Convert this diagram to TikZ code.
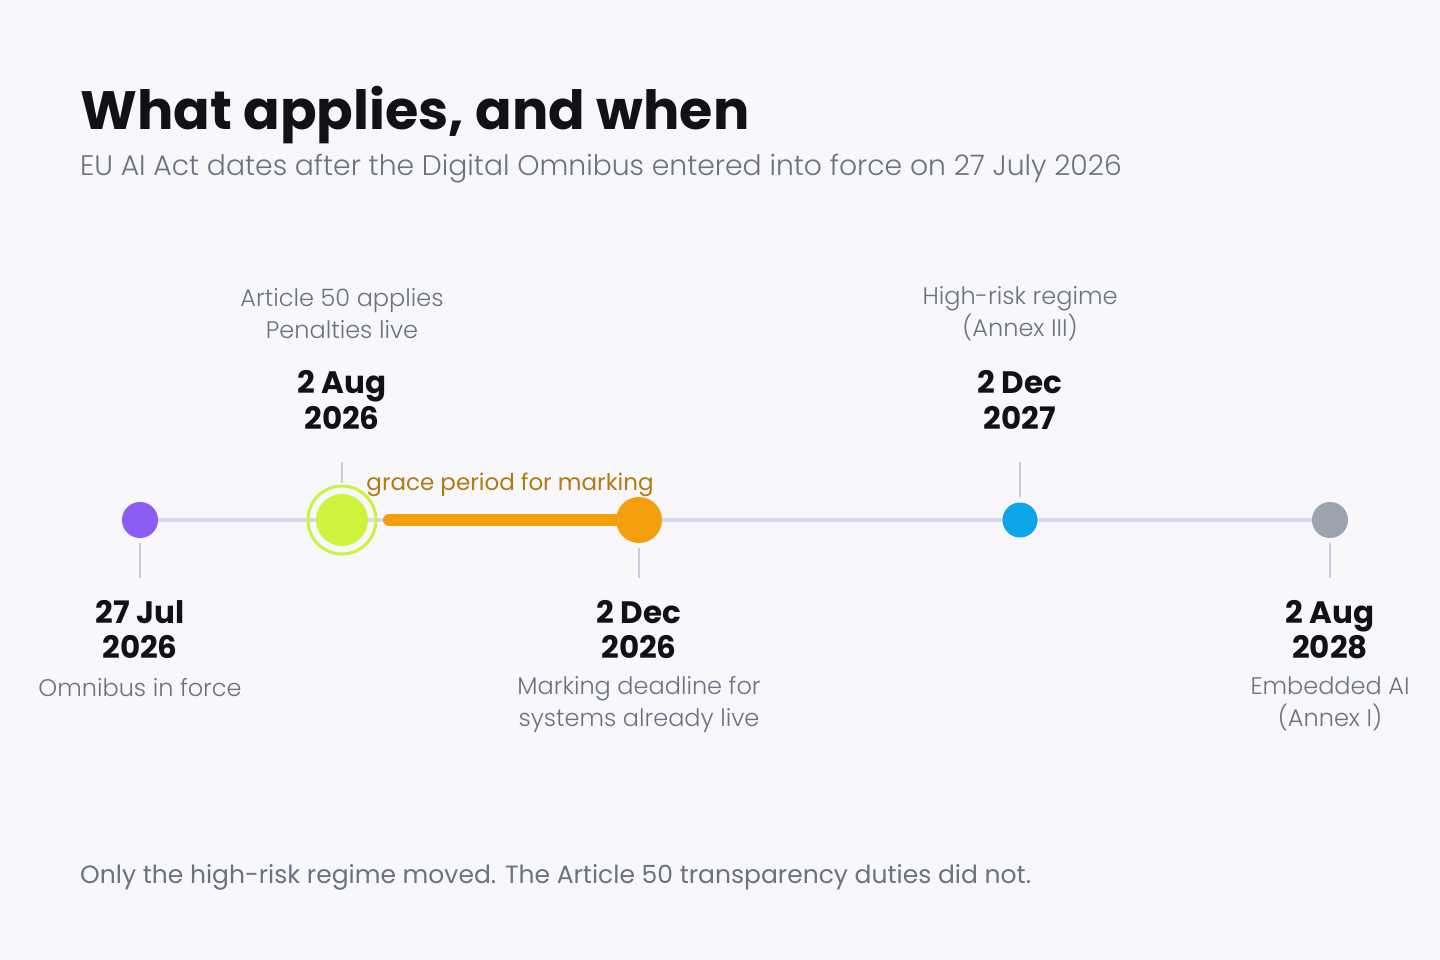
\documentclass[tikz,border=0pt]{standalone}
\usepackage{fontspec}
\setmainfont{Poppins}
\newfontfamily\poplight{Poppins}[UprightFont=* Light]
\definecolor{bgc}{HTML}{F7F7FC}
\definecolor{axisc}{HTML}{D9D9EA}
\definecolor{tickc}{HTML}{CACADE}
\definecolor{inkc}{HTML}{111116}
\definecolor{mutedc}{HTML}{6B7280}
\definecolor{purplec}{HTML}{8B5CF6}
\definecolor{limec}{HTML}{CCF43C}
\definecolor{orangec}{HTML}{F59E0B}
\definecolor{gracec}{HTML}{B47A12}
\definecolor{bluec}{HTML}{0EA5E9}
\definecolor{grayc}{HTML}{9CA3AF}
\begin{document}
\begin{tikzpicture}[x=1pt,y=-1pt,
      dot/.style={circle,inner sep=0pt,minimum size=#1},
      date label/.style={align=center,text=inkc,font=\fontsize{31}{35.5}\selectfont\bfseries},
      desc label/.style={align=center,text=mutedc,font=\fontsize{24}{32}\selectfont\poplight},
      tick/.style={draw=tickc,line width=2.5pt}]
      
      \fill[bgc] (0,0) rectangle (1440,960);
      
      \node[anchor=base west,inner sep=0pt,text=inkc,font=\fontsize{54}{60}\selectfont\bfseries] (title) at (80,130) {What applies, and when};
      \node[anchor=base west,inner sep=0pt,text=mutedc,font=\fontsize{28.25}{32}\selectfont\poplight] (subtitle) at (80,176) {EU AI Act dates after the Digital Omnibus entered into force on 27 July 2026};
      
      % the axis
      \coordinate (start) at (140,520);
      \coordinate (end) at (1330,520);
      \draw[axisc,line width=4pt] (start) -- (end);
      
      % grace period bar
      \coordinate (graceL) at (389,520);
      \coordinate (graceR) at (639,520);
      \draw[orangec,line width=12pt,line cap=round] (graceL) -- (graceR);
      \node[text=gracec,font=\fontsize{23}{26}\selectfont] (grace) at (510,485) {grace period for marking};
      
      % dots
      \node[dot=36pt,fill=purplec] (omnibus) at (140,520) {};
      \node[dot=68pt,draw=limec,line width=3pt] (ring) at (342,520) {};
      \node[dot=52pt,fill=limec] (art50) at (342,520) {};
      \node[dot=46pt,fill=orangec] (marking) at (639,520) {};
      \node[dot=35pt,fill=bluec] (highrisk) at (1020,520) {};
      \node[dot=36pt,fill=grayc] (embedded) at (1330,520) {};
      
      % ticks
      \coordinate (t1) at (140,578);
      \coordinate (t2) at (342,462);
      \coordinate (t3) at (639,578);
      \coordinate (t4) at (1020,462);
      \coordinate (t5) at (1330,578);
      \draw[tick] ([yshift=-5pt]omnibus.south) -- (t1);
      \draw[tick] ([yshift=2pt]ring.north) -- (t2);
      \draw[tick] ([yshift=-5pt]marking.south) -- (t3);
      \draw[tick] ([yshift=5pt]highrisk.north) -- (t4);
      \draw[tick] ([yshift=-5pt]embedded.south) -- (t5);
      
      % labels
      \node[date label] (omnibusD) at (140,629.5) {27 Jul\\2026};
      \node[desc label] (omnibusT) at (140,688) {Omnibus in force};
      \node[date label] (art50D) at (342,400) {2 Aug\\2026};
      \node[desc label] (art50T) at (342,314) {Article 50 applies\\Penalties live};
      \node[date label] (markingD) at (639,629.5) {2 Dec\\2026};
      \node[desc label] (markingT) at (639,704) {Marking deadline for\\systems already live};
      \node[date label] (highriskD) at (1020,400) {2 Dec\\2027};
      \node[desc label] (highriskT) at (1020,314) {High-risk regime\\(Annex III)};
      \node[date label] (embeddedD) at (1330,629.5) {2 Aug\\2028};
      \node[desc label] (embeddedT) at (1330,704) {Embedded AI\\(Annex I)};
      
      \node[anchor=base west,inner sep=0pt,text=mutedc,font=\fontsize{25}{28}\selectfont] (note) at (80,883) {Only the high-risk regime moved. The Article 50 transparency duties did not.};
\end{tikzpicture}
\end{document}
